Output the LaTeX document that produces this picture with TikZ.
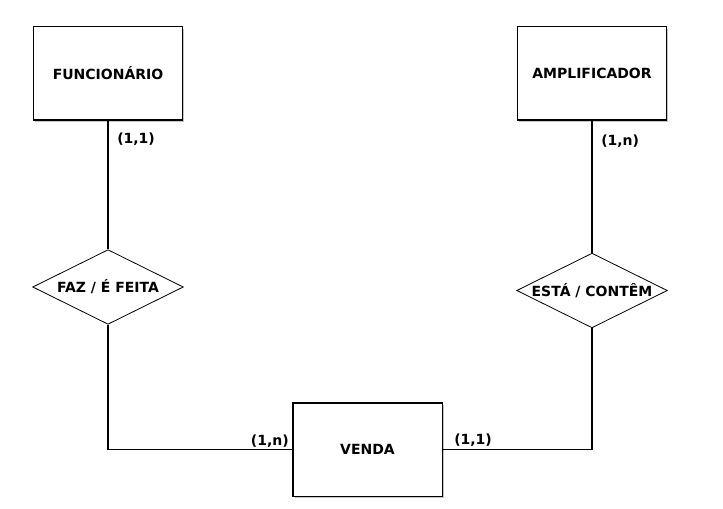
\documentclass[tikz,border=0pt]{standalone}
\usepackage{fontspec}
\setmainfont{DejaVu Sans}
\usetikzlibrary{shapes.geometric,shadows}

\tikzset{
  entidade/.style={draw,line width=1pt,fill=white,minimum width=112pt,
    minimum height=70pt,inner sep=0pt,
    drop shadow={shadow xshift=1.3pt,shadow yshift=-1.3pt,fill=black!45}},
  relacao/.style={draw,diamond,aspect=2,line width=0.6pt,fill=white,
    minimum width=113pt,minimum height=56pt,inner sep=0pt},
  card/.style={inner sep=0pt},
  liga/.style={line width=0.8pt}
}

\begin{document}
\begin{tikzpicture}[x=0.75pt,y=-0.75pt,
  every node/.style={font=\bfseries\fontsize{10.5}{12}\selectfont}]
\useasboundingbox (0,0) rectangle (723,509);

% entidades
\node[entidade] (func) at (108,73.5) {FUNCIONÁRIO};
\node[entidade] (amp) at (592,73.5) {AMPLIFICADOR};
\node[entidade] (venda) at (367.5,449.5) {VENDA};

% relacionamentos
\node[relacao] (faz) at (108,287) {FAZ / É FEITA};
\node[relacao] (esta) at (592,290.5) {ESTÁ / CONTÊM};

\draw[liga] (func.south) -- (faz.north);
\draw[liga] (faz.south) |- (venda.west);
\draw[liga] (amp.south) -- (esta.north);
\draw[liga] (esta.south) |- (venda.east);

% cardinalidades
\node[card,anchor=west] (c1) at (117,139) {(1,1)};
\node[card,anchor=west] (c2) at (601,141) {(1,n)};
\node[card,anchor=east] (c3) at (289,441) {(1,n)};
\node[card,anchor=west] (c4) at (454,440) {(1,1)};
\end{tikzpicture}
\end{document}
